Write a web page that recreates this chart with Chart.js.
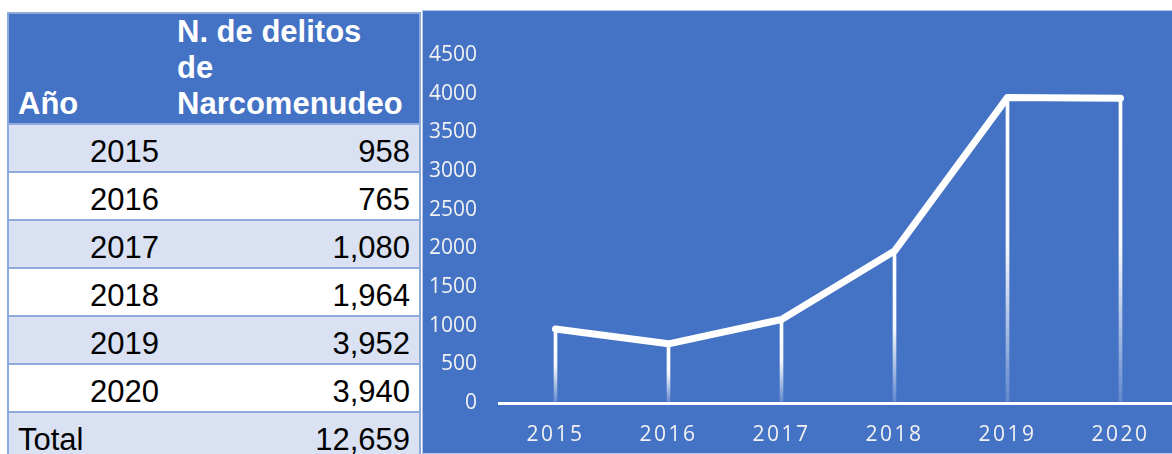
<!DOCTYPE html>
<html>
<head>
<meta charset="utf-8">
<script src="https://cdn.jsdelivr.net/npm/chart.js@4.4.1/dist/chart.umd.min.js"></script>
<style>
  html, body { margin: 0; padding: 0; background: #fff; width: 1172px; height: 454px; overflow: hidden; position: relative; }
  table { position: absolute; left: 7px; top: 12px; border-collapse: collapse; table-layout: fixed; width: 412px;
          font-family: "Liberation Sans", Arial, sans-serif; font-size: 31px; color: #000; }
  td, th { border: 2px solid #8eaadb; padding: 0 9px 1px 9px; vertical-align: bottom; line-height: normal; white-space: nowrap; }
  td:first-child, th:first-child { border-right: none; }
  td:last-child, th:last-child { border-left: none; }
  th { background: #4472c4; color: #fff; text-align: left; font-weight: bold; height: 107px; }
  td { height: 45px; text-align: right; }
  tr.alt td { background: #d9e1f2; }
  td.left { text-align: left; }
  #panel { position: absolute; left: 422px; top: 10px; width: 762px; height: 442px; background: #4472c4; border: 1px solid #b4c7e7; }
  #wrap { position: absolute; left: 0; top: 0; width: 760px; height: 441px; }
</style>
</head>
<body>
<table id="tbl">
  <colgroup><col style="width:160px"><col style="width:252px"></colgroup>
  <thead><tr><th>Año</th><th>N. de delitos<br>de<br>Narcomenudeo</th></tr></thead>
  <tbody id="rows"></tbody>
</table>
<div id="panel"><div id="wrap"><canvas id="chart"></canvas></div></div>
<script>
const years = ["2015", "2016", "2017", "2018", "2019", "2020"];
const delitos = [958, 765, 1080, 1964, 3952, 3940];
const totalLabel = "Total";
const totalValue = 12659;
const yMin = 0;
const yMax = 4500;
const yStep = 500;

// table rows
const fmt = (v) => v.toLocaleString("en-US");
const body = document.getElementById("rows");
years.forEach((y, i) => {
  const tr = document.createElement("tr");
  if (i % 2 === 0) tr.className = "alt";
  tr.innerHTML = `<td>${y}</td><td>${fmt(delitos[i])}</td>`;
  body.appendChild(tr);
});
const tot = document.createElement("tr");
tot.className = "alt";
tot.innerHTML = `<td class="left">${totalLabel}</td><td>${fmt(totalValue)}</td>`;
body.appendChild(tot);

// drop lines fade toward the axis
function dropGradient(c) {
  const chart = c.chart;
  const area = chart.chartArea;
  if (!area || c.dataIndex === undefined) return "#ffffff";
  const y = chart.scales.y;
  const top = y.getPixelForValue(delitos[c.dataIndex]);
  const bottom = y.getPixelForValue(0);
  const g = chart.ctx.createLinearGradient(0, top, 0, bottom);
  g.addColorStop(0, "rgba(255,255,255,1)");
  g.addColorStop(0.5, "rgba(255,255,255,0.95)");
  g.addColorStop(1, "rgba(255,255,255,0.15)");
  return g;
}

// x tick labels are letter-spaced in the original
const spacedXLabels = {
  id: "spacedXLabels",
  beforeDraw(chart) {
    const x = chart.scales.x;
    if (!x || x._spaced) return;
    const orig = x.drawLabels.bind(x);
    x.drawLabels = function (area) {
      const ctx = this.ctx;
      ctx.save();
      ctx.letterSpacing = "2.5px";
      orig(area);
      ctx.restore();
    };
    x._spaced = true;
  },
};

new Chart(document.getElementById("chart"), {
  type: "bar",
  plugins: [spacedXLabels],
  data: {
    labels: years,
    datasets: [
      {
        type: "line",
        label: "Delitos",
        data: delitos,
        borderColor: "#ffffff",
        borderWidth: 7,
        borderCapStyle: "round",
        borderJoinStyle: "round",
        pointRadius: 0,
        tension: 0,
        order: 0,
      },
      {
        type: "bar",
        label: "drop",
        data: delitos,
        barThickness: 3,
        backgroundColor: dropGradient,
        order: 1,
      },
    ],
  },
  options: {
    animation: false,
    responsive: true,
    maintainAspectRatio: false,
    layout: { padding: { top: 44, right: 6, bottom: 0, left: 0 } },
    plugins: {
      legend: { display: false },
      tooltip: { enabled: false },
    },
    scales: {
      x: {
        afterFit: (s) => { s.height = 49; },
        grid: { display: false, drawTicks: false },
        border: { display: true, color: "#ffffff", width: 3 },
        ticks: {
          color: "#f2f2f2",
          padding: 19,
          maxRotation: 0,
          font: { family: "'Open Sans'", size: 21 },
        },
      },
      y: {
        min: yMin,
        max: yMax,
        afterFit: (s) => { s.width = 76; },
        grid: { display: false, drawTicks: false },
        border: { display: false },
        ticks: {
          stepSize: yStep,
          color: "#f2f2f2",
          padding: 22,
          font: { family: "'Open Sans'", size: 21 },
          callback: (v) => String(v),
        },
      },
    },
  },
});
</script>
</body>
</html>
